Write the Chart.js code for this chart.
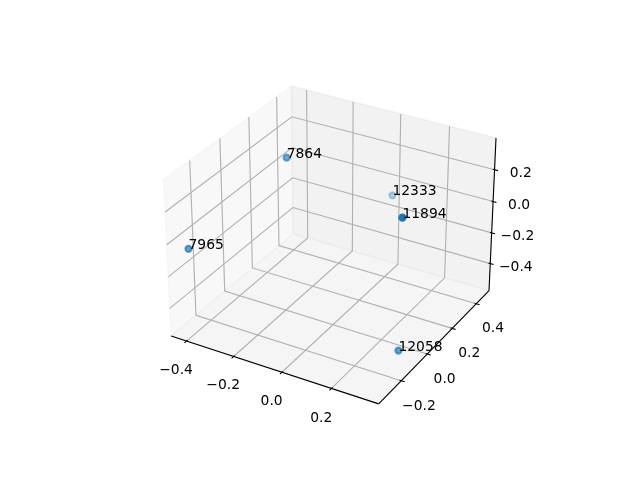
<!DOCTYPE html>
<html>
<head>
<meta charset="utf-8">
<script src="https://cdn.jsdelivr.net/npm/chart.js@4.4.0/dist/chart.umd.min.js"></script>
<style>
  html, body { margin: 0; background: #fff; }
</style>
</head>
<body>
<canvas id="chart" width="640" height="480"></canvas>
<script>
const pointLabels = ["7864", "7965", "11894", "12058", "12333"];
const xValues = [-0.224, -0.412, 0.332, 0.316, 0.000];
const yValues = [0.061, -0.311, -0.110, -0.089, 0.454];
const zValues = [0.333, -0.043, 0.323, -0.517, -0.083];

const xTicks = [-0.4, -0.2, 0.0, 0.2];
const yTicks = [-0.2, 0.0, 0.2, 0.4];
const zTicks = [-0.4, -0.2, 0.0, 0.2];

// camera like a default mplot3d axes
const ELEV = 30, AZIM = -60, DIST = 10;
const FONT = '13.89px "DejaVu Sans"';

function lim(vals) {
  const lo = Math.min(...vals), hi = Math.max(...vals), m = (hi - lo) * 0.05;
  return [lo - m, hi + m];
}
const lims = [lim(xValues), lim(yValues), lim(zValues)];
const span = lims.map(([a, b]) => b - a);
const mid = lims.map(([a, b]) => (a + b) / 2);
const mins = lims.map(([a], i) => a - span[i] / 48);
const maxs = lims.map(([, b], i) => b + span[i] / 48);

const k = 1.8294640721620434 / Math.hypot(4, 4, 3);
const box = [4 * k, 4 * k, 3 * k];
const er = ELEV * Math.PI / 180, ar = AZIM * Math.PI / 180;
const wv = [Math.cos(er) * Math.cos(ar), Math.cos(er) * Math.sin(ar), Math.sin(er)];
const eye = box.map((b, i) => b / 2 + DIST * wv[i]);
const un = Math.hypot(wv[0], wv[1]);
const uv = [-wv[1] / un, wv[0] / un, 0];
const vv = [
  wv[1] * uv[2] - wv[2] * uv[1],
  wv[2] * uv[0] - wv[0] * uv[2],
  wv[0] * uv[1] - wv[1] * uv[0]
];
const dot = (a, b) => a[0] * b[0] + a[1] * b[1] + a[2] * b[2];

function project(p3) {
  const d = p3.map((v, i) => (v - lims[i][0]) / span[i] * box[i] - eye[i]);
  const c = dot(wv, d);
  return { x: dot(uv, d) / -c, y: dot(vv, d) / -c, depth: DIST / c };
}

// panes sit on the far side of each axis
const backMax = wv.map(v => v < 0);
const back = [0, 1, 2].map(i => backMax[i] ? maxs[i] : mins[i]);
const front = [0, 1, 2].map(i => backMax[i] ? mins[i] : maxs[i]);

const paneColors = ["rgba(242,242,242,0.5)", "rgba(230,230,230,0.5)", "rgba(236,236,236,0.5)"];
const juggled = [[1, 0, 2], [0, 1, 2], [0, 2, 1]];
const tickDirs = [1, 0, 0];
const tickSets = [xTicks, yTicks, zTicks];
const labelFactor = 11.5 * 48 / (72 * 3.696 * 2);

const fmt = v => v.toFixed(1).replace("-", "\u2212");

const points = pointLabels.map((name, i) => {
  const pr = project([xValues[i], yValues[i], zValues[i]]);
  return { name, x: pr.x, y: pr.y, depth: pr.depth };
});
const dmin = Math.min(...points.map(p => p.depth));
const dmax = Math.max(...points.map(p => p.depth));
points.forEach(p => {
  p.alpha = 1 - (p.depth - dmin) / (dmax - dmin) * 0.7;
});
points.sort((a, b) => b.depth - a.depth);
const shade = points.map(p => `rgba(31,119,180,${p.alpha.toFixed(3)})`);

const axes3d = {
  id: "axes3d",
  beforeDatasetsDraw(chart) {
    const { ctx, scales: { x: sx, y: sy } } = chart;
    const toPx = p3 => {
      const pr = project(p3);
      return [sx.getPixelForValue(pr.x), sy.getPixelForValue(pr.y)];
    };
    const line = (pts, color, width) => {
      ctx.beginPath();
      pts.forEach((p, j) => {
        const [a, b] = toPx(p);
        j ? ctx.lineTo(a, b) : ctx.moveTo(a, b);
      });
      ctx.strokeStyle = color;
      ctx.lineWidth = width;
      ctx.stroke();
    };
    ctx.save();

    // panes
    for (let i = 0; i < 3; i++) {
      const j = (i + 1) % 3, m = (i + 2) % 3;
      const corners = [[mins[j], mins[m]], [maxs[j], mins[m]], [maxs[j], maxs[m]], [mins[j], maxs[m]]].map(([a, b]) => {
        const p = [0, 0, 0];
        p[i] = back[i]; p[j] = a; p[m] = b;
        return p;
      });
      ctx.beginPath();
      corners.forEach((p, n) => {
        const [a, b] = toPx(p);
        n ? ctx.lineTo(a, b) : ctx.moveTo(a, b);
      });
      ctx.closePath();
      ctx.fillStyle = paneColors[i];
      ctx.fill();
      ctx.strokeStyle = paneColors[i];
      ctx.lineWidth = 1.39;
      ctx.stroke();
    }

    // grid
    for (let i = 0; i < 3; i++) {
      tickSets[i].forEach(t => {
        const p0 = back.slice();
        p0[i] = t;
        const pa = p0.slice(); pa[(i + 1) % 3] = front[(i + 1) % 3];
        const pc = p0.slice(); pc[(i + 2) % 3] = front[(i + 2) % 3];
        line([pa, p0, pc], "#b0b0b0", 1.11);
      });
    }

    // axis lines, ticks, tick labels
    ctx.font = FONT;
    ctx.fillStyle = "#000";
    ctx.textAlign = "center";
    ctx.textBaseline = "alphabetic";
    for (let i = 0; i < 3; i++) {
      const [j0, j1] = juggled[i];
      const e1 = back.slice(); e1[j0] = front[j0];
      const e2 = e1.slice(); e2[j1] = front[j1];
      line([e1, e2], "#000", 1.11);

      const td = tickDirs[i];
      const delta = (backMax[td] ? 1 : -1) * span[td] / 12;
      tickSets[i].forEach(t => {
        const a = e1.slice(); a[i] = t; a[td] = e1[td] + 0.1 * delta;
        const b = e1.slice(); b[i] = t; b[td] = e1[td] - 0.2 * delta;
        line([a, b], "#000", 1.11);

        const lp = e1.slice(); lp[i] = t;
        for (let d = 0; d < 3; d++) {
          if (d === i) continue;
          lp[d] += Math.sign(lp[d] - mid[d]) * labelFactor * span[d] / 12;
        }
        const [lx, ly] = toPx(lp);
        ctx.fillText(fmt(t), lx, ly + 10.6);
      });
    }
    ctx.restore();
  },
  afterDatasetsDraw(chart) {
    const { ctx, scales: { x: sx, y: sy } } = chart;
    ctx.save();
    ctx.font = FONT;
    ctx.fillStyle = "#000";
    ctx.textAlign = "left";
    ctx.textBaseline = "alphabetic";
    points.forEach(p => {
      ctx.fillText(p.name, sx.getPixelForValue(p.x), sy.getPixelForValue(p.y));
    });
    ctx.restore();
  }
};

new Chart(document.getElementById("chart"), {
  type: "scatter",
  data: {
    datasets: [{
      data: points.map(p => ({ x: p.x, y: p.y })),
      backgroundColor: shade,
      borderColor: shade,
      borderWidth: 2.08,
      pointRadius: 3.1,
      pointHoverRadius: 3.1
    }]
  },
  options: {
    responsive: false,
    animation: false,
    events: [],
    layout: { padding: { left: 143.2, right: 127.2, top: 57.6, bottom: 52.8 } },
    plugins: { legend: { display: false }, tooltip: { enabled: false } },
    scales: {
      x: { type: "linear", min: -0.095, max: 0.09, display: false },
      y: { type: "linear", min: -0.095, max: 0.09, display: false }
    }
  },
  plugins: [axes3d]
});
</script>
</body>
</html>
